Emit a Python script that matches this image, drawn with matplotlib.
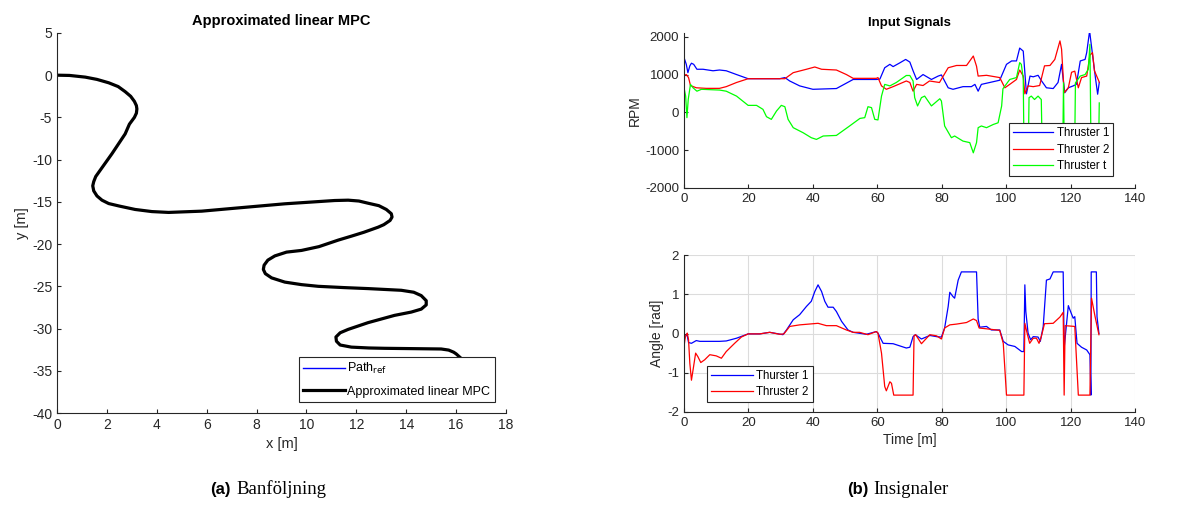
import numpy as np
import matplotlib
matplotlib.use('Agg')
from matplotlib import pyplot as plt

plt.rcParams['font.family'] = ['Liberation Sans', 'DejaVu Sans']
plt.rcParams['axes.unicode_minus'] = False

# --- path (left) ---
ref_x = [0, 0.5, 1.13, 1.6, 2.07, 2.45, 2.73, 2.95, 3.1, 3.18, 3.2, 3.18, 3.1, 2.9, 2.73, 2.2,
         1.73, 1.55, 1.47, 1.43, 1.47, 1.6, 1.8, 2.07, 2.5, 3.13, 3.8, 4.47, 5.8, 7.13, 9.13,
         11.13, 11.67, 12.1, 12.47, 12.9, 13.2, 13.4, 13.43, 13.35, 13.1, 12.87, 12.3, 11.8,
         11.27, 10.5, 9.8, 9.2, 8.73, 8.45, 8.3, 8.27, 8.35, 8.6, 9.13, 9.8, 10.47, 11.5,
         12.47, 13.8, 14.3, 14.6, 14.8, 14.8, 14.6, 14.2, 13.53, 12.47, 11.67, 11.35, 11.18,
         11.2, 11.35, 11.8, 12.5, 13.13, 14.3, 15.4, 15.7, 15.9, 16.0, 16.15]
ref_y = [0, -0.03, -0.23, -0.5, -0.9, -1.35, -1.95, -2.5, -3.1, -3.6, -4.0, -4.5, -5.0, -5.8,
         -6.95, -9.3, -11.25, -12.0, -12.6, -13.1, -13.7, -14.3, -14.8, -15.2, -15.5, -15.9,
         -16.15, -16.25, -16.1, -15.75, -15.23, -14.84, -14.8, -14.9, -15.16, -15.45, -15.9,
         -16.4, -16.8, -17.2, -17.7, -18.0, -18.6, -19.06, -19.53, -20.3, -20.75, -20.95,
         -21.4, -21.9, -22.5, -23.0, -23.5, -24.0, -24.5, -24.8, -25.0, -25.15, -25.27, -25.47,
         -25.7, -26.1, -26.7, -27.2, -27.7, -28.05, -28.44, -29.3, -30.1, -30.5, -31.0, -31.5,
         -31.95, -32.2, -32.3, -32.34, -32.38, -32.42, -32.55, -32.8, -33.0, -33.4]
mpc_x = ref_x
mpc_y = ref_y

# --- RPM (top right) ---
t1_rpm_t = [0, 0.7, 1.2, 1.8, 2.3, 3, 4, 5.9, 9, 11, 13.1, 16.3, 19.9, 23.5, 29.7, 31.3, 32.8,
            35.9, 40, 47.3, 52.5, 59.7, 60.8, 62.3, 63.9, 64.9, 67, 68.8, 70.1, 71.1, 72.2,
            74.2, 76.8, 78.9, 79.9, 82, 83.5, 86.6, 89.2, 90.3, 91.3, 92.3, 94.9, 98, 100.1,
            101.7, 103.2, 104.2, 105.3, 106.3, 107.4, 108.4, 109.9, 111, 112.5, 114.6, 116.1,
            117.2, 117.7, 118.2, 119.3, 120.8, 121.8, 123, 124.5, 125, 125.9, 126.6, 127.7,
            128.4, 128.9]
t1_rpm = [1450, 1270, 1050, 1230, 1300, 1270, 1140, 1140, 1100, 1120, 1100, 1000, 890, 890,
          890, 920, 830, 700, 610, 630, 870, 870, 880, 1180, 1270, 1210, 1310, 1400, 1330,
          1100, 870, 1000, 870, 960, 990, 650, 610, 680, 680, 740, 560, 740, 790, 850, 1270,
          1360, 1360, 1700, 1620, 490, 960, 940, 980, 830, 650, 630, 790, 1270, 870, 520, 650,
          700, 740, 1360, 1400, 1580, 2150, 1670, 920, 480, 790]

t2_rpm_t = [0, 0.7, 1.4, 2, 3.8, 6.9, 11, 13.1, 16.3, 19.9, 29.7, 31.3, 33.9, 38, 40.6, 42.7,
            47.3, 50.4, 52.5, 59.7, 60.2, 61.3, 62.8, 64.9, 69, 70.1, 71.1, 72.2, 74.2, 76.2,
            79.3, 82, 84.6, 87.7, 89.8, 90.8, 91.3, 93.9, 98, 99.6, 101.1, 103.2, 104.2, 105.3,
            105.8, 106.8, 108.4, 110.4, 111.9, 113.6, 115.1, 116.7, 117.2, 118, 119.3, 120.3,
            121.3, 122.4, 123.4, 125, 126, 126.8, 127.4, 128.9]
t2_rpm = [980, 1000, 920, 710, 650, 635, 635, 680, 790, 890, 890, 890, 1050, 1140, 1200, 1140,
          1120, 1000, 900, 900, 920, 700, 610, 680, 830, 790, 560, 740, 710, 830, 790, 1180,
          1240, 1240, 1490, 1220, 960, 980, 920, 650, 740, 870, 1120, 960, 490, 700, 680, 710,
          1230, 1240, 1400, 1890, 1670, 520, 650, 1060, 1090, 650, 920, 960, 1510, 1580, 1100,
          800]

tt_rpm_t = [0, 0.5, 0.9, 1.3, 2, 2.8, 4, 5.4, 11, 13.1, 16.3, 19.9, 22.5, 24.5, 25.6, 27.1,
            28.7, 30.2, 31.3, 32.3, 33.9, 37, 39.5, 41.1, 43.2, 47.3, 51.4, 54.6, 56.1, 57.1,
            58.2, 59.2, 60.2, 61.3, 62.3, 63.9, 65.9, 69, 70.1, 71.1, 71.6, 72.5, 73.7, 74.7,
            76.8, 79.4, 79.9, 80.9, 83, 84, 86.6, 88.7, 89.8, 90.8, 91.3, 92.3, 93.9, 96, 97.5,
            98.6, 99, 101.1, 103.2, 104.2, 104.7, 105.3, 105.6, 106.8, 107.1, 107.8, 108.8,
            109.9, 110.9, 111.3, 117.5, 117.8, 118.1, 121.2, 121.5, 123, 124.5, 125.5, 126,
            126.4, 128.6, 128.9]
tt_rpm = [650, 430, -140, 340, 740, 650, 560, 610, 590, 560, 430, 185, 185, 80, -115, -185,
          35, 185, 150, -185, -405, -540, -670, -715, -625, -610, -360, -160, -140, 150, 125,
          -185, -200, 430, 740, 700, 790, 975, 975, 830, 390, 170, 390, 430, 170, 360, 300,
          -360, -670, -625, -760, -800, -1070, -800, -405, -360, -405, -320, -275, 170, 625,
          870, 920, 1315, 1270, 900, -1500, -1500, 390, 430, 340, 430, 340, -1500, -1500, 780,
          -1500, -1500, 780, 960, 1000, 1140, 1800, -1500, -1500, 250]

# --- angles (bottom right) ---
t1_ang_t = [0, 0.4, 0.9, 1.4, 2.3, 3.8, 4.9, 11, 13.1, 16.3, 19.9, 23.5, 26.6, 30.7, 31.8,
            33.9, 35.9, 38, 39.5, 40.6, 41.6, 42.7, 43.7, 44.7, 46.3, 47.3, 48.9, 50.9, 52.5,
            56.6, 59.7, 60.2, 61.8, 64.9, 69, 70.1, 71.1, 71.8, 73.7, 76.3, 78.4, 79.9, 80.9,
            82, 82.5, 83.5, 84, 85.1, 86.1, 90.8, 91.3, 91.8, 93.9, 95.4, 98, 99.1, 100.6,
            102.7, 104.8, 105.5, 105.8, 106.1, 106.8, 107.6, 108.4, 109.9, 110.6, 111.5, 112.5,
            113.6, 114.6, 117.7, 118, 119.3, 119.8, 120.8, 121.3, 122, 123.4, 125, 126, 126.3,
            126.4, 128, 128.2, 128.8]
t1_ang = [-0.16, -0.08, -0.01, -0.23, -0.25, -0.18, -0.2, -0.2, -0.19, -0.12, -0.01, -0.01,
          0.03, -0.03, 0.09, 0.35, 0.48, 0.69, 0.82, 1.07, 1.24, 1.07, 0.82, 0.67, 0.67, 0.56,
          0.31, 0.09, 0.03, -0.02, 0.05, 0.01, -0.25, -0.26, -0.37, -0.35, -0.08, -0.03, -0.14,
          -0.05, -0.08, -0.09, 0.14, 0.69, 1.05, 0.94, 0.9, 1.36, 1.57, 1.57, 0.37, 0.16, 0.18,
          0.09, 0.09, -0.2, -0.29, -0.33, -0.46, -0.46, 1.24, 0.56, 0.01, -0.16, -0.08, -0.09,
          -0.2, 0.18, 1.36, 1.39, 1.57, 1.57, -0.37, 0.71, 0.6, 0.39, 0.43, -0.25, -0.35,
          -0.42, -0.54, -1.57, 1.57, 1.57, 0.43, 0.0]

t2_ang_t = [0, 0.4, 1, 1.4, 1.8, 2.3, 2.8, 3.6, 4.3, 5.2, 6.4, 8, 10, 11.6, 13.1, 15.7, 17.8,
            19.9, 23.5, 26.6, 29.7, 31, 32.8, 35.9, 41.6, 44.2, 47.3, 50.4, 52.5, 54.5, 57.1,
            59.7, 60.2, 61.3, 62.3, 62.8, 63.9, 64.4, 65.1, 71.1, 71.4, 71.9, 73.7, 76.3, 78.4,
            79.9, 80.9, 82.5, 84.6, 87.7, 89.8, 90.8, 91.6, 93.9, 98, 99.1, 100.1, 105.5,
            105.8, 106.5, 107.3, 108.4, 109.4, 110.2, 110.9, 111.9, 114.6, 116.7, 117.7, 118,
            118.3, 121.3, 122.4, 126, 126.5, 127.6, 128.8]
t2_ang = [-0.33, -0.08, 0.01, -0.16, -0.76, -1.19, -0.93, -0.5, -0.59, -0.74, -0.67, -0.54,
          -0.57, -0.63, -0.46, -0.25, -0.09, -0.01, -0.01, 0.03, -0.02, -0.01, 0.18, 0.22,
          0.26, 0.2, 0.2, 0.09, 0.03, 0.03, -0.03, 0.05, 0.01, -0.5, -1.35, -1.46, -1.23,
          -1.27, -1.57, -1.57, -0.06, -0.03, -0.26, -0.03, -0.06, -0.14, 0.14, 0.22, 0.24,
          0.28, 0.37, 0.33, 0.14, 0.12, 0.08, -0.25, -1.57, -1.57, 0.26, 0.01, -0.25, -0.12,
          -0.12, -0.25, -0.08, 0.25, 0.26, 0.42, 0.54, -1.57, 0.2, 0.18, -1.57, -1.57, 0.9,
          0.43, -0.03]

grey = '#262626'
green = (0, 1, 0)


def style_ax(ax, fs):
    for s in ['top', 'right']:
        ax.spines[s].set_visible(False)
    for s in ['left', 'bottom']:
        ax.spines[s].set_color(grey)
        ax.spines[s].set_linewidth(0.8)
    ax.tick_params(direction='in', length=3, colors=grey, labelsize=fs, width=0.8)


fig = plt.figure(figsize=(11.89, 5.07), dpi=100)

# left
ax1 = fig.add_axes([0.048, 0.1854, 0.3776, 0.7496])
ax1.plot(ref_x, ref_y, color='b', lw=1, label='Path$_{\\mathrm{ref}}$')
ax1.plot(mpc_x, mpc_y, color='k', lw=2.3, solid_joinstyle='round', label='Approximated linear MPC')
ax1.set_xlim(0, 18)
ax1.set_ylim(-40, 5)
ax1.set_xticks(range(0, 19, 2))
ax1.set_yticks(range(-40, 6, 5))
style_ax(ax1, 10)
ax1.set_xlabel('x [m]', fontsize=10.5, color=grey)
ax1.set_ylabel('y [m]', fontsize=10.5, color=grey, labelpad=2)
ax1.set_title('Approximated linear MPC', fontsize=10.5, fontweight='bold', pad=6)
leg = ax1.legend(loc='lower right', bbox_to_anchor=(0.989, 0.012), fontsize=9,
                 fancybox=False, framealpha=1, edgecolor=grey, borderpad=0.35,
                 handlelength=3.35, handletextpad=0.2, labelspacing=0.75)
leg.get_frame().set_linewidth(0.8)

# top right
ax2 = fig.add_axes([0.5753, 0.6292, 0.3793, 0.3058])
ax2.plot(t1_rpm_t, t1_rpm, color='b', lw=0.9, label='Thruster 1')
ax2.plot(t2_rpm_t, t2_rpm, color='r', lw=0.9, label='Thruster 2')
ax2.plot(tt_rpm_t, tt_rpm, color=green, lw=0.9, label='Thruster t')
ax2.set_xlim(0, 140)
ax2.set_ylim(-2000, 2100)
ax2.set_xticks(range(0, 141, 20))
ax2.set_yticks([-2000, -1000, 0, 1000, 2000])
style_ax(ax2, 9.5)
ax2.set_ylabel('RPM', fontsize=10, color=grey, labelpad=2)
ax2.set_title('Input Signals', fontsize=9.5, fontweight='bold', pad=5)
leg = ax2.legend(loc='lower right', bbox_to_anchor=(0.964, 0.038), fontsize=8.3,
                 fancybox=False, framealpha=1, edgecolor=grey, borderpad=0.35,
                 handlelength=3.5, handletextpad=0.3, labelspacing=0.4)
leg.get_frame().set_linewidth(0.8)
leg.set_zorder(5)

# bottom right
ax3 = fig.add_axes([0.5753, 0.1874, 0.3793, 0.3096])
ax3.plot(t1_ang_t, t1_ang, color='b', lw=0.9, label='Thurster 1')
ax3.plot(t2_ang_t, t2_ang, color='r', lw=0.9, label='Thruster 2')
ax3.set_xlim(0, 140)
ax3.set_ylim(-2, 2)
ax3.set_xticks(range(0, 141, 20))
ax3.set_yticks([-2, -1, 0, 1, 2])
style_ax(ax3, 9.5)
ax3.grid(True, color='#dcdcdc', lw=0.8)
ax3.set_axisbelow(True)
ax3.set_xlabel('Time [m]', fontsize=10, color=grey, labelpad=3)
ax3.set_ylabel('Angle [rad]', fontsize=10, color=grey, labelpad=2)
leg = ax3.legend(loc='lower left', bbox_to_anchor=(0.039, 0.025), fontsize=8.3,
                 fancybox=False, framealpha=1, edgecolor=grey, borderpad=0.35,
                 handlelength=3.6, handletextpad=0.3, labelspacing=0.4)
leg.get_frame().set_linewidth(0.8)

# captions
fig.text(231 / 1189, 0.026, '(a)', ha='right', va='baseline', fontsize=12, fontweight='bold')
fig.text(236 / 1189, 0.026, 'Banföljning', ha='left', va='baseline', fontsize=13.5,
         family='Liberation Serif')
fig.text(868 / 1189, 0.026, '(b)', ha='right', va='baseline', fontsize=12, fontweight='bold')
fig.text(873 / 1189, 0.026, 'Insignaler', ha='left', va='baseline', fontsize=13.5,
         family='Liberation Serif')

fig.savefig('out.png', dpi=100)
